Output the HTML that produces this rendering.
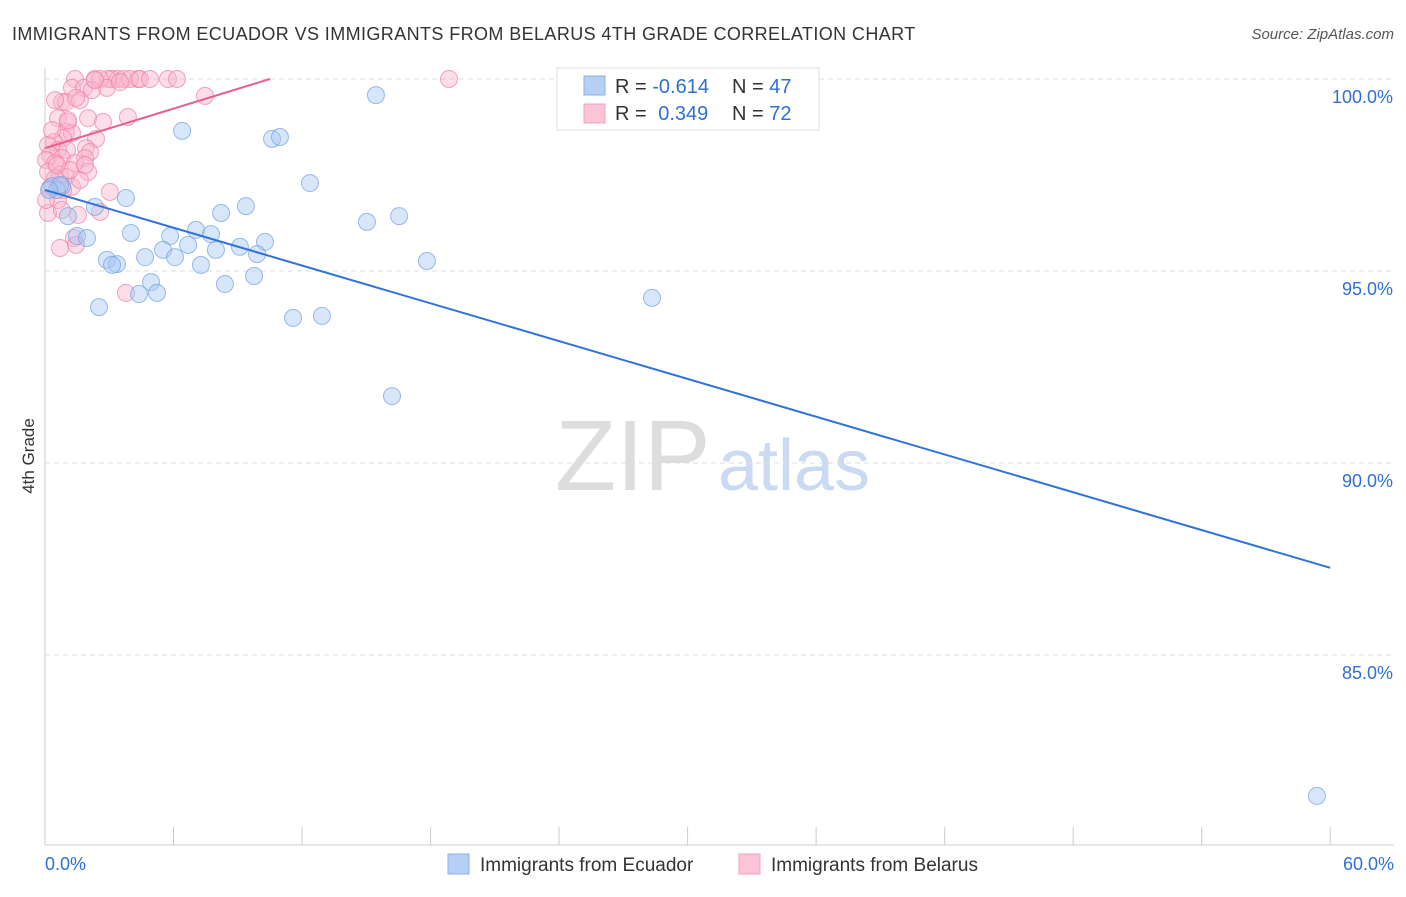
<!DOCTYPE html>
<html><head><meta charset="utf-8"><style>
body{margin:0;background:#fff;font-family:"Liberation Sans",sans-serif}
svg text{font-family:"Liberation Sans",sans-serif}
</style></head><body>
<svg id="chart" width="1406" height="892" xmlns="http://www.w3.org/2000/svg">
<text x="12" y="40" font-size="18" letter-spacing="0.4" fill="#333">IMMIGRANTS FROM ECUADOR VS IMMIGRANTS FROM BELARUS 4TH GRADE CORRELATION CHART</text>
<text x="1394" y="39" font-size="15" fill="#555" font-style="italic" text-anchor="end">Source: ZipAtlas.com</text>
<text x="34" y="456" font-size="17" fill="#333" transform="rotate(-90 34 456)" text-anchor="middle">4th Grade</text>
<text x="555" y="490" font-size="100" fill="#ddd" font-family="Liberation Serif">ZIP</text>
<text x="718" y="490" font-size="72" fill="#c9daf2">atlas</text>
<g id="grid"></g><g id="axes"></g><g id="pts"></g><g id="lines"></g>
<g>
<rect x="557" y="68" width="262" height="62" fill="#fff" stroke="#ddd"/>
<rect x="584" y="76" width="21" height="19" fill="#b5cff5" stroke="#8ab0ea"/>
<rect x="584" y="104" width="21" height="19" fill="#fcc5d5" stroke="#f3a0bb"/>
<text x="615" y="93" font-size="20" fill="#333">R = <tspan fill="#2f6fd6">-0.614</tspan><tspan x="732">N = </tspan><tspan fill="#2f6fd6">47</tspan></text>
<text x="615" y="120" font-size="20" fill="#333">R = <tspan fill="#2f6fd6" dx="6">0.349</tspan><tspan x="732">N = </tspan><tspan fill="#2f6fd6">72</tspan></text>
</g>
<g>
<rect x="448" y="854" width="21" height="20" fill="#b5cff5" stroke="#8ab0ea"/>
<text x="480" y="871" font-size="19" fill="#333">Immigrants from Ecuador</text>
<rect x="739" y="854" width="21" height="20" fill="#fcc5d5" stroke="#f3a0bb"/>
<text x="771" y="871" font-size="19" fill="#333">Immigrants from Belarus</text>
</g>
</svg>
<script>
const yTicks=[100,95,90,85];
const xTickLabels=["0.0%","60.0%"];
const blueX=[6.40,15.45,10.60,10.97,12.37,3.78,2.33,1.07,8.22,9.38,15.03,16.53,4.01,5.84,7.05,7.75,1.49,1.96,5.51,6.68,9.10,10.27,4.67,6.07,2.89,3.36,3.13,7.28,7.98,9.90,17.83,9.76,8.40,4.95,4.39,5.23,2.52,11.58,12.93,16.20,28.34,59.38,0.33,0.79,0.56,0.70,0.19];
const blueY=[98.65,99.58,98.44,98.49,97.29,96.90,96.67,96.43,96.51,96.69,96.28,96.43,95.99,95.91,96.07,95.96,95.91,95.86,95.55,95.68,95.63,95.76,95.36,95.36,95.29,95.18,95.16,95.16,95.55,95.44,95.26,94.87,94.66,94.71,94.40,94.43,94.06,93.78,93.83,91.74,94.30,81.33,97.21,97.21,97.11,97.24,97.11];
const pinkX=[1.40,2.33,3.13,3.41,3.69,4.34,5.74,6.16,18.86,2.94,3.97,2.57,1.26,1.82,2.89,3.50,7.47,0.79,0.98,1.63,0.61,2.01,1.07,2.71,3.87,0.98,1.26,0.84,2.38,0.42,0.14,0.61,1.03,1.91,2.10,0.23,0.79,0.05,1.87,0.47,1.40,0.14,0.70,2.01,0.47,0.98,1.26,0.84,3.03,0.23,0.61,0.14,1.54,2.57,1.35,0.70,1.45,3.78,1.07,1.45,2.19,4.44,4.90,0.47,0.33,1.63,1.17,0.56,0.05,0.79,1.87,2.33];
const pinkY=[100,100,100,100,100,100,100,100,100,100,100,100,99.77,99.77,99.77,99.92,99.56,99.40,99.40,99.45,98.98,98.98,98.88,98.88,99.01,98.62,98.59,98.46,98.44,98.36,98.28,98.15,98.15,98.20,98.10,98.02,97.94,97.89,97.94,97.81,97.81,97.58,97.50,97.58,97.42,97.45,97.19,97.11,97.06,97.16,96.85,96.51,96.46,96.54,95.86,95.60,95.68,94.43,98.93,99.51,99.71,100,100,99.45,98.67,97.37,97.63,97.76,96.85,96.59,97.76,99.97];
const blueLine=[[0,97.11],[60,87.27]];
const pinkLine=[[0,98.2],[10.5,100]];
const NS="http://www.w3.org/2000/svg";
const xS=p=>45+p*21.42;
const yS=v=>79+(100-v)*38.4;
function mk(tag,attrs,parent){const e=document.createElementNS(NS,tag);for(const k in attrs)e.setAttribute(k,attrs[k]);document.getElementById(parent).appendChild(e);return e;}
yTicks.forEach(v=>{
 const l=mk('line',{x1:45,x2:1394,y1:yS(v),y2:yS(v),stroke:'#ddd','stroke-dasharray':'5,4'},'grid');
 
 
 const t=mk('text',{x:1393,y:yS(v)+24,'font-size':18,fill:'#2f6fd6','text-anchor':'end'},'grid');
 t.textContent=v.toFixed(1)+'%';
 
 
});
mk('line',{x1:45,x2:45,y1:68,y2:845,stroke:'#ccc'},'axes');
mk('line',{x1:45,x2:1394,y1:845,y2:845,stroke:'#ccc'},'axes');
for(let i=0;i<=10;i++){const t=mk('line',{x1:xS(i*6),x2:xS(i*6),y1:827,y2:845,stroke:'#ccc'},'axes');
 
 }
[[0,'start',45],[1,'end',1394]].forEach(([i,a,x])=>{const t=mk('text',{x:x,y:870,'font-size':18,fill:'#2f6fd6','text-anchor':a},'axes');t.textContent=xTickLabels[i];
 
 });
function pts(X,Y,fill,stroke,name){X.forEach((x,i)=>{const c=mk('circle',{cx:xS(x),cy:yS(Y[i]),r:8.5,fill:fill,'fill-opacity':0.45,stroke:stroke,'stroke-opacity':0.7},'pts');
 
 });}
pts(pinkX,pinkY,'#f9b6cb','#ee7fa3','belarus-point');
pts(blueX,blueY,'#a9c7f2','#6f9fe2','ecuador-point');
const bl=mk('line',{x1:xS(blueLine[0][0]),y1:yS(blueLine[0][1]),x2:xS(blueLine[1][0]),y2:yS(blueLine[1][1]),stroke:'#2f73d9','stroke-width':2},'lines');


const pl=mk('line',{x1:xS(pinkLine[0][0]),y1:yS(pinkLine[0][1]),x2:xS(pinkLine[1][0]),y2:yS(pinkLine[1][1]),stroke:'#e8608c','stroke-width':2},'lines');


</script>
</body></html>
